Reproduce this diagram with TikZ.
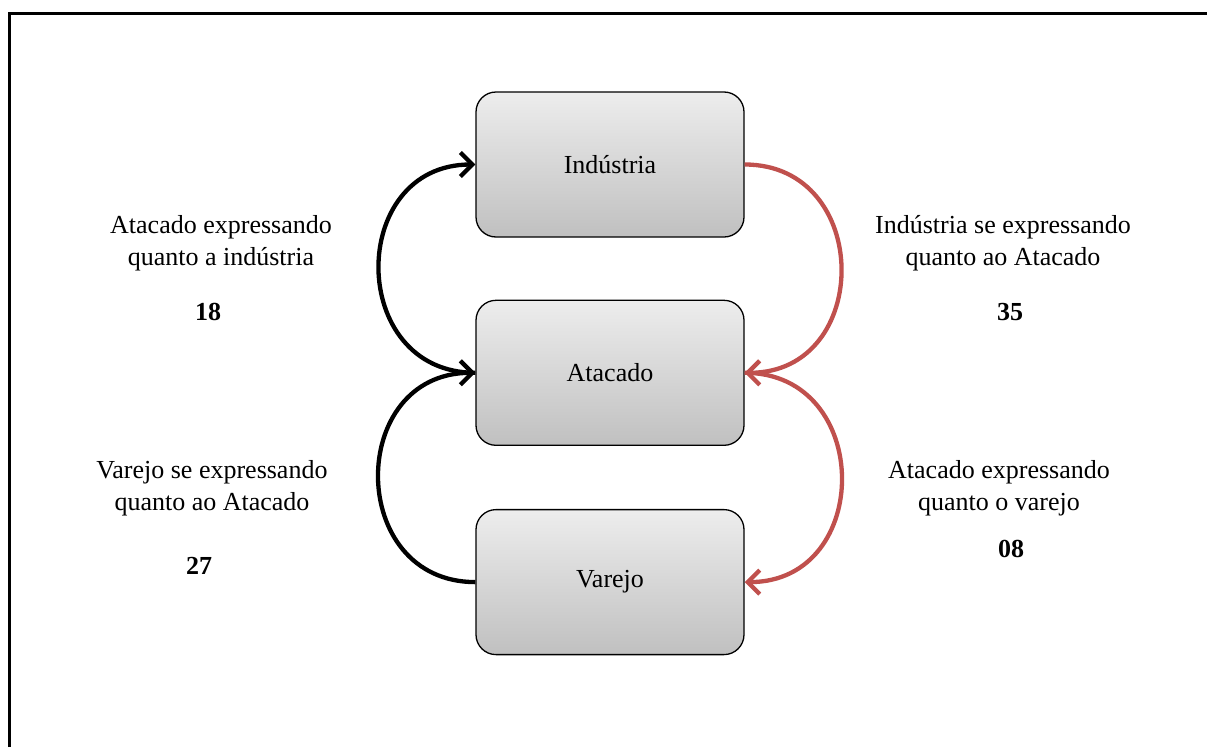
\documentclass[tikz,border=0pt]{standalone}
\usepackage{fontspec}
\setmainfont{Liberation Serif}
\usepackage{xcolor}
\usepackage{tikz}
\usetikzlibrary{positioning, arrows.meta}
\definecolor{boxtop}{HTML}{EDEDED}
\definecolor{boxbottom}{HTML}{C0C0C0}
\definecolor{flowred}{HTML}{C0504D}

\begin{document}
\begin{tikzpicture}[x=1pt, y=-1pt,
    font=\fontsize{26}{32}\selectfont,
    box/.style={draw=black, line width=1.3pt, rounded corners=20pt,
                top color=boxtop, bottom color=boxbottom,
                minimum width=268pt, minimum height=145pt},
    flow/.style={line width=4.3pt, -{Straight Barb[length=12pt, width=24pt]},
                 looseness=1.58},
    lbl/.style={align=center},
    num/.style={font=\fontsize{26}{32}\selectfont\bfseries}]
  \useasboundingbox (0,0) rectangle (1207,747);
  % frame, only the top and left edges fall inside the page
  \draw[line width=3pt] (9.5,747) -- (9.5,13.5) -- (1207,13.5);

  % the three links of the chain
  \node[box] (industria) at (610,164.5) {Indústria};
  \node[box, below=62pt of industria] (atacado) {Atacado};
  \node[box, below=63pt of atacado] (varejo) {Varejo};

  % curved connectors
  \draw[flow] (atacado.west) to[out=180, in=180] (industria.west);
  \draw[flow] (varejo.west) to[out=180, in=180] (atacado.west);
  \draw[flow, flowred] (industria.east) to[out=0, in=0] (atacado.east);
  \draw[flow, flowred] (atacado.east) to[out=0, in=0] (varejo.east);

  % texts beside the arcs
  \node[lbl] (atacInd) at (221,243) {Atacado expressando\\quanto a indústria};
  \node[num] (n18) at (208,312) {18};
  \node[lbl] (indAtac) at (1003,243) {Indústria se expressando\\quanto ao Atacado};
  \node[num] (n35) at (1010,312) {35};
  \node[lbl] (varAtac) at (212,488) {Varejo se expressando\\quanto ao Atacado};
  \node[num] (n27) at (199,566) {27};
  \node[lbl] (atacVar) at (999,488) {Atacado expressando\\quanto o varejo};
  \node[num] (n08) at (1011,549) {08};
\end{tikzpicture}
\end{document}
